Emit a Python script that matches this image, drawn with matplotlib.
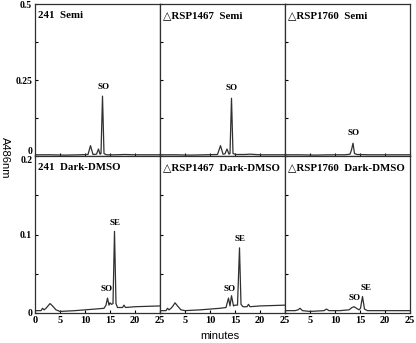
import matplotlib
matplotlib.use("Agg")
from matplotlib import pyplot as plt

# retention time (min) / absorbance at 486 nm
semi_241_t = [0, 3, 6, 9, 10.6, 11.1, 11.6, 12.3, 12.7, 13.0, 13.2, 13.5, 13.8, 14.3, 16, 18, 20, 22, 25]
semi_241_a = [0.004, 0.004, 0.003, 0.004, 0.005, 0.034, 0.005, 0.006, 0.023, 0.006, 0.008, 0.197, 0.008, 0.004, 0.004, 0.005, 0.004, 0.004, 0.004]

semi_1467_t = [0, 3, 6, 9, 11.5, 12.1, 12.6, 13.0, 13.4, 13.8, 14.0, 14.3, 14.6, 15.2, 17, 18, 20, 22, 25]
semi_1467_a = [0.004, 0.004, 0.003, 0.004, 0.005, 0.034, 0.006, 0.007, 0.023, 0.006, 0.008, 0.19, 0.008, 0.005, 0.005, 0.006, 0.004, 0.004, 0.004]

semi_1760_t = [0, 3, 6, 9, 12, 13.0, 13.3, 13.6, 13.9, 14.4, 17, 20, 25]
semi_1760_a = [0.004, 0.004, 0.003, 0.004, 0.004, 0.006, 0.02, 0.042, 0.008, 0.005, 0.004, 0.004, 0.004]

dmso_241_t = [0, 1.2, 1.5, 1.8, 2.2, 2.6, 3.0, 3.5, 4.2, 5, 8, 10, 12, 13.8, 14.2, 14.5, 14.8, 15.0, 15.3, 15.6, 15.9, 16.2, 16.5, 17.5, 17.8, 18.1, 20, 25]
dmso_241_a = [0.003, 0.003, 0.006, 0.004, 0.006, 0.009, 0.012, 0.009, 0.004, 0.002, 0.003, 0.004, 0.005, 0.006, 0.010, 0.019, 0.010, 0.013, 0.011, 0.012, 0.104, 0.012, 0.007, 0.007, 0.010, 0.007, 0.008, 0.009]

dmso_1467_t = [0, 1.2, 1.5, 1.8, 2.2, 2.6, 3.0, 3.5, 4.2, 5, 8, 10, 12, 13.2, 13.7, 14.0, 14.3, 14.7, 15.0, 15.5, 15.9, 16.2, 16.6, 17.4, 17.7, 18.0, 20, 25]
dmso_1467_a = [0.003, 0.003, 0.006, 0.004, 0.006, 0.009, 0.013, 0.009, 0.004, 0.003, 0.004, 0.005, 0.006, 0.007, 0.019, 0.009, 0.022, 0.009, 0.010, 0.010, 0.083, 0.011, 0.008, 0.008, 0.011, 0.008, 0.009, 0.010]

dmso_1760_t = [0, 2, 2.6, 3.0, 3.5, 5, 7.8, 8.3, 8.8, 11, 12.8, 13.4, 13.8, 14.3, 14.8, 15.1, 15.5, 15.9, 16.5, 19, 22, 25]
dmso_1760_a = [0.003, 0.003, 0.004, 0.006, 0.003, 0.002, 0.003, 0.005, 0.003, 0.003, 0.004, 0.007, 0.008, 0.006, 0.004, 0.006, 0.021, 0.005, 0.003, 0.003, 0.003, 0.003]

titles = [["241  Semi", "\u25b3RSP1467  Semi", "\u25b3RSP1760  Semi"],
          ["241  Dark-DMSO", "\u25b3RSP1467  Dark-DMSO", "\u25b3RSP1760  Dark-DMSO"]]
traces = [[(semi_241_t, semi_241_a), (semi_1467_t, semi_1467_a), (semi_1760_t, semi_1760_a)],
          [(dmso_241_t, dmso_241_a), (dmso_1467_t, dmso_1467_a), (dmso_1760_t, dmso_1760_a)]]
# peak labels: (text, time, absorbance)
peak_labels = [[[("SO", 13.7, 0.215)], [("SO", 14.4, 0.21)], [("SO", 13.7, 0.062)]],
               [[("SO", 14.4, 0.026), ("SE", 16.0, 0.110)],
                [("SO", 14.0, 0.026), ("SE", 16.0, 0.089)],
                [("SO", 14.0, 0.014), ("SE", 16.3, 0.027)]]]
row_ylim = [0.5, 0.2]
row_ticks = [[0, 0.25, 0.5], [0, 0.1, 0.2]]
row_ticklabels = [["0", "0.25", "0.5"], ["0", "0.1", "0.2"]]
row_minor = [[0.125, 0.375], [0.05, 0.15]]
x_ticks = [0, 5, 10, 15, 20, 25]

serif = ["Liberation Serif", "DejaVu Serif"]

fig = plt.figure(figsize=(4.16, 3.43), dpi=100)
left, col_w = 35 / 416, 125 / 416
rows_box = [(1 - 156 / 343, 152 / 343), (1 - 313 / 343, 157 / 343)]

for r in range(2):
    for c in range(3):
        bottom, h = rows_box[r]
        ax = fig.add_axes([left + c * col_w, bottom, col_w, h])
        t, a = traces[r][c]
        ax.plot(t, a, color="#303030", lw=0.9)
        ax.set_xlim(0, 25)
        ax.set_ylim(0, row_ylim[r])
        ax.set_yticks(row_ticks[r])
        ax.set_yticks(row_minor[r], minor=True)
        ax.set_xticks(x_ticks)
        ax.tick_params(direction="in", length=2.5, width=0.8, pad=2)
        ax.tick_params(which="minor", direction="in", length=2, width=0.8)
        for s in ax.spines.values():
            s.set_linewidth(0.9)
            s.set_color("#303030")
        if c == 0:
            ylabels = ax.set_yticklabels(row_ticklabels[r], fontfamily=serif,
                                         fontweight="bold", fontsize=7)
            # keep "0" of the top row and "0.2" of the bottom row apart
            if r == 0:
                ylabels[0].set_va("bottom")
            else:
                ylabels[-1].set_va("top")
        else:
            ax.set_yticklabels([])
        if r == 1:
            labels = [str(v) for v in x_ticks]
            if c > 0:
                labels[0] = ""
            ax.set_xticklabels(labels, fontfamily=serif, fontweight="bold", fontsize=7.5)
        else:
            ax.set_xticklabels([])
        ax.text(0.025, 0.955, titles[r][c], transform=ax.transAxes, ha="left", va="top",
                fontfamily=serif, fontweight="bold", fontsize=7.8)
        for txt, px, py in peak_labels[r][c]:
            ax.text(px, py, txt, ha="center", va="bottom", fontfamily=serif,
                    fontweight="bold", fontsize=6.5)

fig.text(220 / 416, 1 - 336 / 343, "minutes", ha="center", va="center", fontsize=8,
         fontfamily="Liberation Sans")
fig.text(5 / 416, 1 - 158 / 343, "A486nm", ha="center", va="center", rotation=-90,
         fontsize=8, fontfamily="Liberation Sans")

fig.savefig("out.png", dpi=100)
